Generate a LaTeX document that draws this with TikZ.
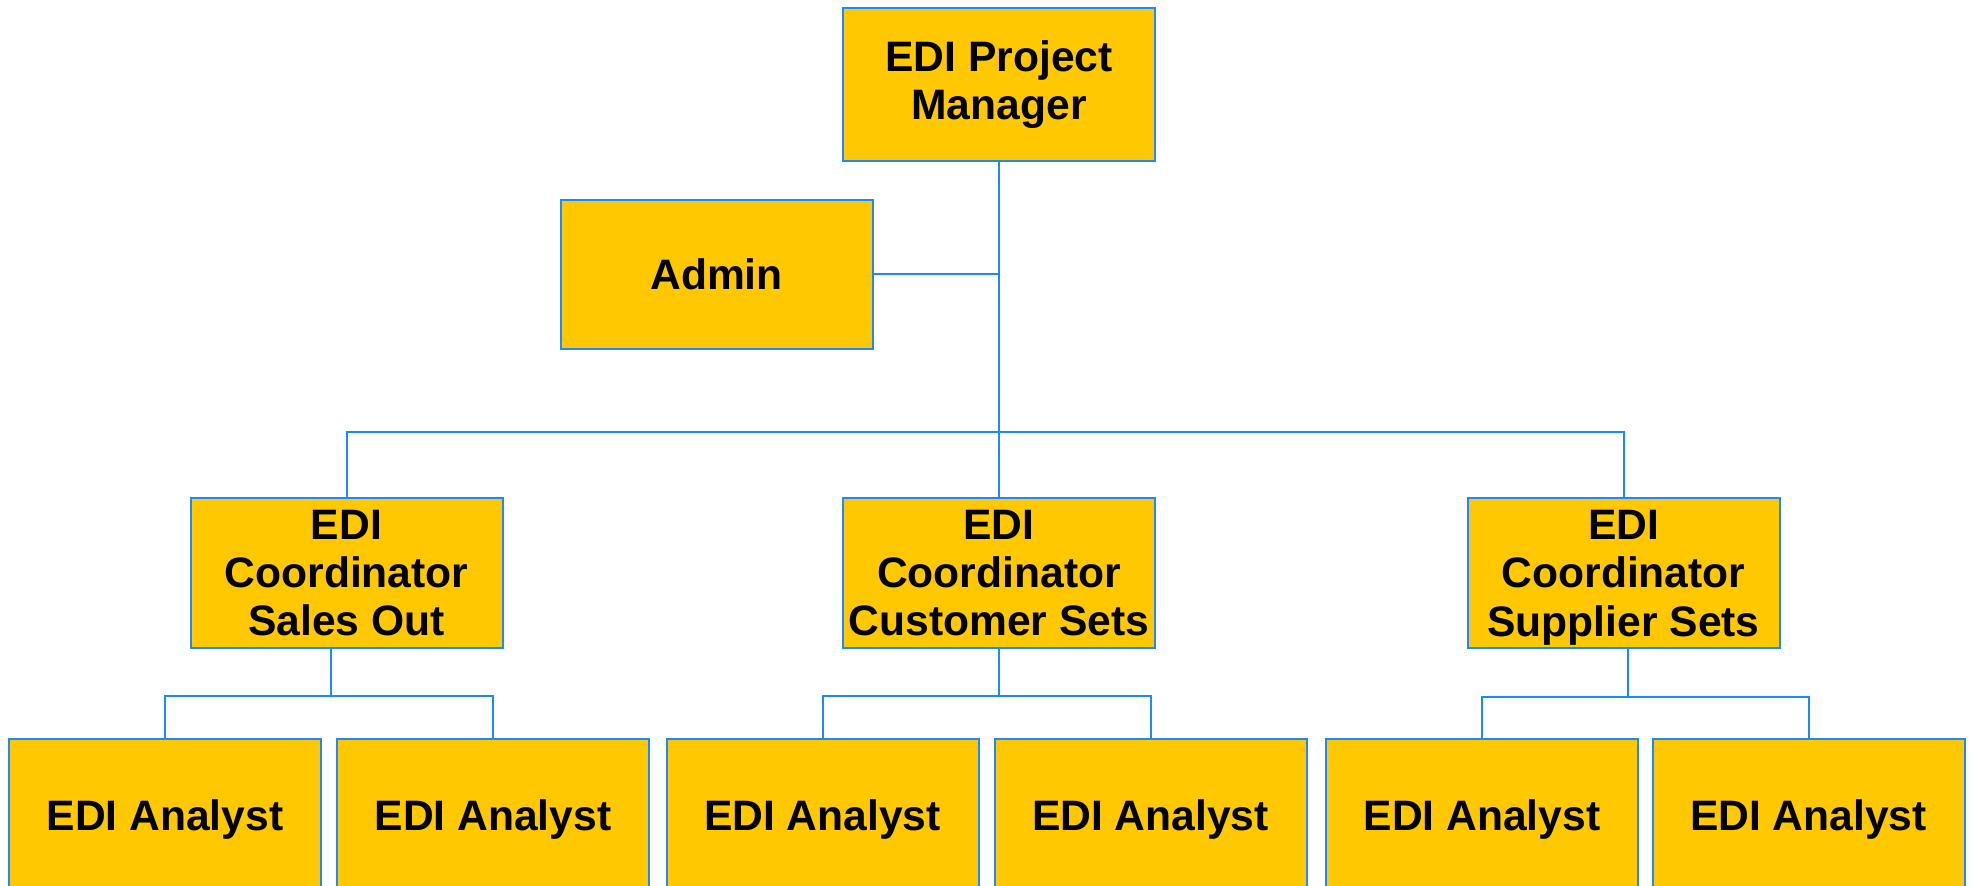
\documentclass[tikz,border=0pt]{standalone}
\usepackage{fontspec}
\setmainfont{Liberation Sans}
\usetikzlibrary{positioning}
\definecolor{boxfill}{RGB}{255,200,0}
\definecolor{boxline}{RGB}{30,136,255}
\begin{document}
\begin{tikzpicture}[x=0.5pt,y=0.5pt,yscale=-1,xscale=1,
	orgbox/.style={draw=boxline,line width=1pt,fill=boxfill,outer sep=0pt,inner sep=2pt,
		minimum width=156pt,minimum height=75pt,align=center,
		font=\fontsize{21.3}{24.2}\selectfont\bfseries},
	link/.style={draw=boxline,line width=1pt}]
	\useasboundingbox (0,0) rectangle (1973,886);
	
	%Shape: Boxes, top and second row
	\node [orgbox,minimum height=76.5pt] (pm) at (999,84.5) {EDI Project\\Manager};
	\node [orgbox,minimum height=74.5pt] (admin) at (716.5,274.5) {Admin};
	
	%Shape: Coordinators
	\node [orgbox] (coordL) at (346.5,573) {EDI\\Coordinator\\Sales Out};
	\node [orgbox] (coordM) at (999,573) {EDI\\Coordinator\\Customer Sets};
	\node [orgbox] (coordR) at (1623.5,573) {EDI\\Coordinator\\\raisebox{0pt}[\height][0pt]{Supplier Sets}};
	
	%Shape: Analysts
	\node [orgbox,minimum height=80pt] (anL1) at (165,819) {EDI Analyst};
	\node [orgbox,minimum height=80pt] (anL2) at (493,819) {EDI Analyst};
	\node [orgbox,minimum height=80pt] (anM1) at (822.5,819) {EDI Analyst};
	\node [orgbox,minimum height=80pt] (anM2) at (1150.5,819) {EDI Analyst};
	\node [orgbox,minimum height=80pt] (anR1) at (1482,819) {EDI Analyst};
	\node [orgbox,minimum height=80pt] (anR2) at (1808.5,819) {EDI Analyst};
	
	%Straight Lines: junctions
	\coordinate (bus) at (999,432);
	\coordinate (subL) at (331,696);
	\coordinate (subM) at (999,696);
	\coordinate (subR) at (1628,697);
	
	%Straight Lines: manager to coordinators
	\draw [link] (pm.south) -- (bus);
	\draw [link] (admin.east) -- (admin.east -| bus);
	\draw [link] (coordL.north) |- (bus) -| (coordR.north);
	\draw [link] (bus) -- (coordM.north);
	
	%Straight Lines: coordinators to analysts
	\draw [link] (coordL.south -| subL) -- (subL);
	\draw [link] (anL1.north) |- (subL) -| (anL2.north);
	\draw [link] (coordM.south) -- (subM);
	\draw [link] (anM1.north) |- (subM) -| (anM2.north);
	\draw [link] (coordR.south -| subR) -- (subR);
	\draw [link] (anR1.north) |- (subR) -| (anR2.north);
\end{tikzpicture}
\end{document}
